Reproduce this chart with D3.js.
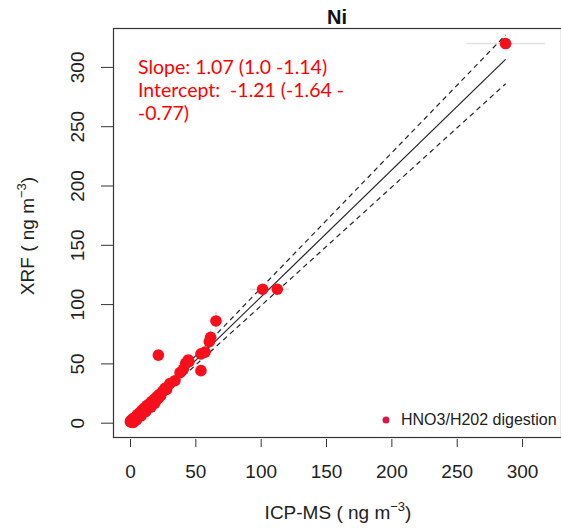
<!DOCTYPE html>
<html><head><meta charset="utf-8">
<script src="https://cdn.jsdelivr.net/npm/d3@7"></script>
<style>body{margin:0;background:#fff}svg{display:block}</style>
</head><body>
<script>
// ---- data ----
const icpms = [0.3,0.6,1.0,1.2,1.8,2.0,2.5,3.0,3.2,4.0,4.5,5.0,5.5,6.0,6.8,7.5,8.0,8.8,9.5,10.2,11.0,11.8,12.5,13.2,14.0,15.0,15.8,16.5,17.5,18.5,19.5,20.5,21.5,22.5,23.5,25.0,26.8,28.0,30.5,34.4,
  2.5,5.0,8.5,12.0,16.0,19.0,
  21.7,38.3,40.8,42.6,45.1,44.6,54.3,54.3,57.4,60.7,61.7,65.8,101.5,112.7,287.4];
const xrf   = [0.8,1.5,0.5,2.2,1.0,3.0,1.8,3.5,2.4,4.6,3.2,5.8,4.4,7.0,5.6,8.4,6.9,10.0,8.6,11.5,10.0,13.0,11.4,14.6,13.0,16.0,14.8,17.8,16.6,19.6,18.5,21.8,20.4,23.8,22.8,26.5,29.0,28.0,33.0,35.4,
  0.2,2.4,5.8,9.4,13.2,16.4,
  57.0,42.2,45.0,50.0,51.4,52.9,43.9,58.0,59.5,68.3,72.0,85.8,112.5,112.5,319.7];
const errPoints = [[65.8,85.8],[61.7,72.0],[101.5,112.5],[112.7,112.5],[287.4,319.7]];
const errX = [6,5,10,9,30];
const errY = [8,7,4,4,3];
const xTicks = [0,50,100,150,200,250,300];
const yTicks = [0,50,100,150,200,250,300];
const fit = {slope:1.07, intercept:-1.21};
const upper = {slope:1.14, intercept:-0.77};
const lower = {slope:1.00, intercept:-1.64};
const fitRange = [0, 287.4];
const annotation = ["Slope: 1.07 (1.0 -1.14)", "Intercept:  -1.21 (-1.64 -", "-0.77)"];
const title = "Ni";
const legendLabel = "HNO3/H202 digestion";

// ---- layout ----
const W = 561, H = 528;
const L = 113, R = 561, T = 28, B = 437;
const FONT = "'Liberation Sans', Arial, sans-serif";
const x = d3.scaleLinear().domain([-13.0, 329.8]).range([L, R]);
const y = d3.scaleLinear().domain([-12.06, 332.8]).range([B, T]);

const svg = d3.select("body").append("svg").attr("width", W).attr("height", H)
  .style("font-family", FONT);

// error bars (faint)
const eg = svg.append("g").attr("stroke", "#e2e2e2").attr("stroke-width", 1.5);
errPoints.forEach((p, i) => {
  eg.append("line").attr("x1", x(p[0]-errX[i])).attr("x2", x(p[0]+errX[i])).attr("y1", y(p[1])).attr("y2", y(p[1]));
  eg.append("line").attr("x1", x(p[0])).attr("x2", x(p[0])).attr("y1", y(p[1]-errY[i])).attr("y2", y(p[1]+errY[i]));
});

// lines
const lineOf = (m) => svg.append("line")
  .attr("x1", x(fitRange[0])).attr("y1", y(m.slope*fitRange[0]+m.intercept))
  .attr("x2", x(fitRange[1])).attr("y2", y(m.slope*fitRange[1]+m.intercept))
  .attr("stroke", "#222").attr("stroke-width", 1.2);
lineOf(fit);
lineOf(upper).attr("stroke-dasharray", "5,4");
lineOf(lower).attr("stroke-dasharray", "5,4");

// points
svg.append("g").selectAll("circle").data(icpms.map((v,i)=>[v, xrf[i]])).join("circle")
  .attr("cx", d => x(d[0])).attr("cy", d => y(d[1])).attr("r", 5.8)
  .attr("fill", "#f5101c");

// frame
svg.append("rect").attr("x", L+0.5).attr("y", T+0.5).attr("width", R-L).attr("height", B-T)
  .attr("fill", "none").attr("stroke", "#333").attr("stroke-width", 1.2);

// axes
const xa = svg.append("g").attr("transform", `translate(0,${B+2})`)
  .call(d3.axisBottom(x).tickValues(xTicks).tickSize(8).tickPadding(18));
xa.select(".domain").remove();
xa.selectAll("line").attr("stroke", "#333");
xa.selectAll("text").attr("font-size", 19).attr("fill", "#222").attr("font-family", FONT);

const ya = svg.append("g").attr("transform", `translate(${L},0)`)
  .call(d3.axisLeft(y).tickValues(yTicks).tickSize(12).tickPadding(0));
ya.select(".domain").remove();
ya.selectAll("line").attr("stroke", "#333");
ya.selectAll("text").remove();
ya.selectAll(".tick").append("text")
  .attr("transform", "translate(-36,0) rotate(-90)")
  .attr("text-anchor", "middle").attr("dy", "0.35em")
  .attr("font-size", 19).attr("fill", "#222")
  .attr("font-family", FONT)
  .text(d => d);

// titles
svg.append("text").attr("x", (L+R)/2).attr("y", 24).attr("text-anchor", "middle")
  .attr("font-weight", "bold").attr("font-size", 20).attr("fill", "#111").text(title);

const xt = svg.append("text").attr("x", 338).attr("y", 519).attr("text-anchor", "middle")
  .attr("font-size", 19).attr("fill", "#222");
xt.append("tspan").text("ICP-MS ( ng m");
xt.append("tspan").attr("dy", -8).attr("font-size", 13).text("−3");
xt.append("tspan").attr("dy", 8).text(")");

const yt = svg.append("text").attr("transform", "translate(34,236) rotate(-90)").attr("text-anchor", "middle")
  .attr("font-size", 19).attr("fill", "#222");
yt.append("tspan").text("XRF ( ng m");
yt.append("tspan").attr("dy", -8).attr("font-size", 13).text("−3");
yt.append("tspan").attr("dy", 8).text(")");

// annotation
svg.append("g").selectAll("text").data(annotation).join("text")
  .attr("x", 138).attr("y", (d,i) => 74 + i*23)
  .attr("font-family", "Lato, 'Open Sans', sans-serif").attr("font-size", 19.5).attr("fill", "#ff0000")
  .style("white-space", "pre").attr("xml:space", "preserve")
  .text(d => d);

// legend
svg.append("circle").attr("cx", 386).attr("cy", 420).attr("r", 3.5).attr("fill", "#dc1448");
svg.append("text").attr("x", 401).attr("y", 425).attr("font-size", 16).attr("fill", "#222").text(legendLabel);
</script>
</body></html>
